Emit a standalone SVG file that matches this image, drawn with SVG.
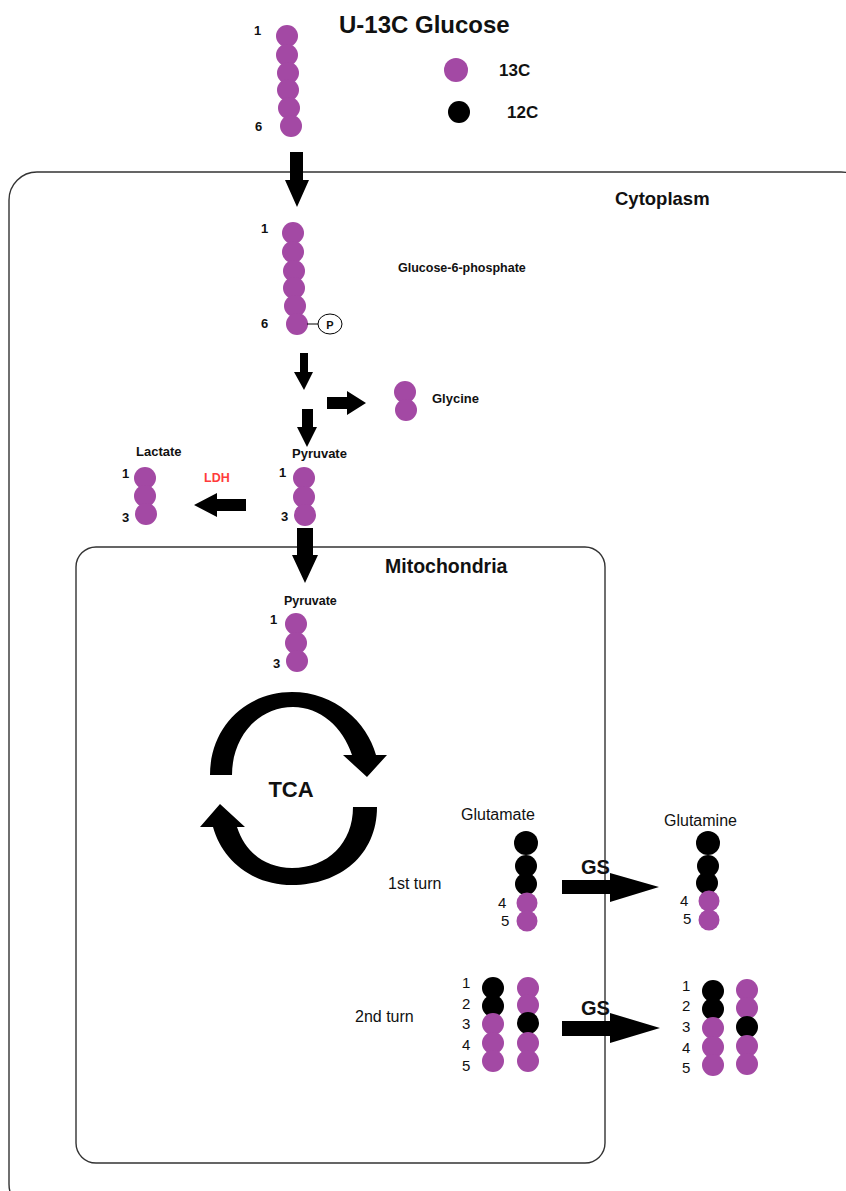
<svg xmlns="http://www.w3.org/2000/svg" width="846" height="1191" viewBox="0 0 846 1191">
  <style>
    .c13 { fill: #a349a4; }
    .c12 { fill: #000; }
    .b { font-family: "Liberation Sans", Arial, sans-serif; font-weight: bold; fill: #111; }
    .r { font-family: "Liberation Sans", Arial, sans-serif; fill: #111; }
    .box { fill: none; stroke: #333; stroke-width: 1.4; }
    .arr { fill: #000; }
  </style>

  <rect width="846" height="1191" fill="#fff"/>

  <!-- compartments -->
  <g id="cytoplasm">
    <rect class="box" x="9" y="172" width="860" height="1040" rx="28" ry="28"/>
    <text class="b" x="615" y="205" font-size="18.5">Cytoplasm</text>
  </g>
  <g id="mitochondria">
    <rect class="box" x="76" y="547" width="529" height="616" rx="20" ry="20"/>
    <text class="b" x="385" y="573" font-size="19.5">Mitochondria</text>
  </g>

  <!-- title and legend -->
  <g id="title">
    <text class="b" x="339" y="33" font-size="24">U-13C Glucose</text>
  </g>
  <g id="legend">
    <circle class="c13" cx="456" cy="70" r="12"/>
    <text class="b" x="499" y="76" font-size="17">13C</text>
    <circle class="c12" cx="459" cy="112" r="11"/>
    <text class="b" x="507" y="118" font-size="17">12C</text>
  </g>

  <!-- U-13C glucose -->
  <g id="glucose">
    <circle class="c13" cx="287" cy="36" r="11"/>
    <circle class="c13" cx="287" cy="55" r="11"/>
    <circle class="c13" cx="288" cy="73" r="11"/>
    <circle class="c13" cx="288" cy="90" r="11"/>
    <circle class="c13" cx="289" cy="108" r="11"/>
    <circle class="c13" cx="291" cy="126" r="11"/>
    <text class="b" x="254" y="35" font-size="13">1</text>
    <text class="b" x="255" y="131" font-size="13">6</text>
  </g>

  <!-- glucose-6-phosphate -->
  <g id="g6p">
    <circle class="c13" cx="293" cy="233" r="11"/>
    <circle class="c13" cx="293" cy="252" r="11"/>
    <circle class="c13" cx="294" cy="271" r="11"/>
    <circle class="c13" cx="294" cy="288" r="11"/>
    <circle class="c13" cx="295" cy="306" r="11"/>
    <circle class="c13" cx="297" cy="324" r="11"/>
    <line x1="307" y1="324" x2="318" y2="324" stroke="#000" stroke-width="1"/>
    <ellipse cx="330" cy="324" rx="12" ry="10" fill="#fff" stroke="#000" stroke-width="1"/>
    <text class="b" x="330" y="328.5" font-size="11" text-anchor="middle">P</text>
    <text class="b" x="261" y="233" font-size="13">1</text>
    <text class="b" x="261" y="328" font-size="13">6</text>
    <text class="b" x="398" y="272" font-size="12.5">Glucose-6-phosphate</text>
  </g>

  <!-- glycine -->
  <g id="glycine">
    <circle class="c13" cx="405" cy="392" r="11"/>
    <circle class="c13" cx="406" cy="410" r="11"/>
    <text class="b" x="432" y="403" font-size="13">Glycine</text>
  </g>

  <!-- cytosolic pyruvate -->
  <g id="pyruvate-cyt">
    <text class="b" x="292" y="458" font-size="13">Pyruvate</text>
    <circle class="c13" cx="304" cy="478" r="11"/>
    <circle class="c13" cx="304" cy="497" r="11"/>
    <circle class="c13" cx="305" cy="515" r="11"/>
    <text class="b" x="279" y="477" font-size="13">1</text>
    <text class="b" x="281" y="521" font-size="13">3</text>
  </g>

  <!-- lactate -->
  <g id="lactate">
    <text class="b" x="136" y="456" font-size="13">Lactate</text>
    <circle class="c13" cx="145" cy="478" r="11"/>
    <circle class="c13" cx="145" cy="496" r="11"/>
    <circle class="c13" cx="146" cy="514" r="11"/>
    <text class="b" x="122" y="478" font-size="13">1</text>
    <text class="b" x="122" y="522" font-size="13">3</text>
    <text class="b" x="204" y="482" font-size="12.5" style="fill:#ff3b3b">LDH</text>
  </g>

  <!-- mitochondrial pyruvate -->
  <g id="pyruvate-mito">
    <text class="b" x="284" y="604.5" font-size="12.5">Pyruvate</text>
    <circle class="c13" cx="296" cy="624" r="11"/>
    <circle class="c13" cx="296" cy="643" r="11"/>
    <circle class="c13" cx="297" cy="661" r="11"/>
    <text class="b" x="270" y="624" font-size="13">1</text>
    <text class="b" x="273" y="668" font-size="13">3</text>
  </g>

  <!-- TCA cycle -->
  <g id="tca">
    <path class="arr" d="M210,775 C210,725 248,692 292,692 C335,692 367,722 376,755 L387,755 L367,777 L343,755 L352,755 C343,727 320,707 293,707 C258,707 232,737 232,775 Z"/>
    <path class="arr" d="M377,807 C377,855 340,885 292,885 C252,885 222,860 213,827 L200,827 L220,804 L245,827 L237,827 C245,852 265,868 292,868 C328,868 353,843 353,807 Z"/>
    <text class="b" x="291" y="797" font-size="22" text-anchor="middle">TCA</text>
  </g>

  <!-- glutamate, first turn -->
  <g id="glutamate-1">
    <text class="r" x="461" y="820" font-size="16">Glutamate</text>
    <text class="r" x="388" y="889" font-size="16">1st turn</text>
    <circle class="c12" cx="526" cy="843" r="12"/>
    <circle class="c12" cx="526" cy="866" r="11"/>
    <circle class="c12" cx="526" cy="884" r="11"/>
    <circle class="c13" cx="527" cy="903" r="10.5"/>
    <circle class="c13" cx="527" cy="921" r="10.5"/>
    <text class="r" x="498" y="908" font-size="15">4</text>
    <text class="r" x="501" y="926" font-size="15">5</text>
  </g>

  <!-- glutamine, first turn -->
  <g id="glutamine-1">
    <text class="r" x="664" y="826" font-size="16">Glutamine</text>
    <circle class="c12" cx="708" cy="843" r="12"/>
    <circle class="c12" cx="708" cy="866" r="11"/>
    <circle class="c12" cx="707" cy="883" r="11"/>
    <circle class="c13" cx="709" cy="901" r="10.5"/>
    <circle class="c13" cx="709" cy="920" r="10.5"/>
    <text class="r" x="680" y="906" font-size="15">4</text>
    <text class="r" x="683" y="924" font-size="15">5</text>
  </g>

  <!-- glutamate, second turn -->
  <g id="glutamate-2">
    <text class="r" x="355" y="1022" font-size="16">2nd turn</text>
    <text class="r" x="462" y="988" font-size="15">1</text>
    <text class="r" x="462" y="1009" font-size="15">2</text>
    <text class="r" x="462" y="1029" font-size="15">3</text>
    <text class="r" x="462" y="1050" font-size="15">4</text>
    <text class="r" x="462" y="1071" font-size="15">5</text>
    <circle class="c12" cx="493" cy="988" r="11"/>
    <circle class="c12" cx="493" cy="1006" r="11"/>
    <circle class="c13" cx="493" cy="1024" r="11"/>
    <circle class="c13" cx="493" cy="1043" r="11"/>
    <circle class="c13" cx="493" cy="1061" r="11"/>
    <circle class="c13" cx="528" cy="988" r="11"/>
    <circle class="c13" cx="528" cy="1005" r="11"/>
    <circle class="c12" cx="528" cy="1023" r="11"/>
    <circle class="c13" cx="528" cy="1043" r="11"/>
    <circle class="c13" cx="528" cy="1061" r="11"/>
  </g>

  <!-- glutamine, second turn -->
  <g id="glutamine-2">
    <text class="r" x="682" y="991" font-size="15">1</text>
    <text class="r" x="682" y="1011" font-size="15">2</text>
    <text class="r" x="682" y="1032" font-size="15">3</text>
    <text class="r" x="682" y="1053" font-size="15">4</text>
    <text class="r" x="682" y="1073" font-size="15">5</text>
    <circle class="c12" cx="713" cy="991" r="11"/>
    <circle class="c12" cx="713" cy="1009" r="11"/>
    <circle class="c13" cx="713" cy="1028" r="11"/>
    <circle class="c13" cx="713" cy="1047" r="11"/>
    <circle class="c13" cx="713" cy="1065" r="11"/>
    <circle class="c13" cx="747" cy="990" r="11"/>
    <circle class="c13" cx="747" cy="1008" r="11"/>
    <circle class="c12" cx="747" cy="1027" r="11"/>
    <circle class="c13" cx="747" cy="1046" r="11"/>
    <circle class="c13" cx="747" cy="1064" r="11"/>
  </g>

  <!-- block arrows -->
  <g id="connectors">
    <polygon class="arr" points="290,152 303,152 303,180 309,180 297,207 285,180 290,180"/>
    <polygon class="arr" points="300,353 308,353 308,372 313,372 304,390 294,372 300,372"/>
    <polygon class="arr" points="327,397 347,397 347,391 366,403 347,415 347,409 327,409"/>
    <polygon class="arr" points="302,409 313,409 313,427 317,427 307,447 297,427 302,427"/>
    <polygon class="arr" points="246,499 217,499 217,493 194,505 217,517 217,511 246,511"/>
    <polygon class="arr" points="297,528 313,528 313,555 318,555 305,583 292,555 297,555"/>
    <polygon class="arr" points="562,880 610,880 610,873 659,887 610,902 610,894 562,894"/>
    <polygon class="arr" points="562,1021 610,1021 610,1013 660,1028 610,1043 610,1036 562,1036"/>
    <text class="b" x="581" y="874" font-size="20">GS</text>
    <text class="b" x="581" y="1015" font-size="20">GS</text>
  </g>
</svg>
